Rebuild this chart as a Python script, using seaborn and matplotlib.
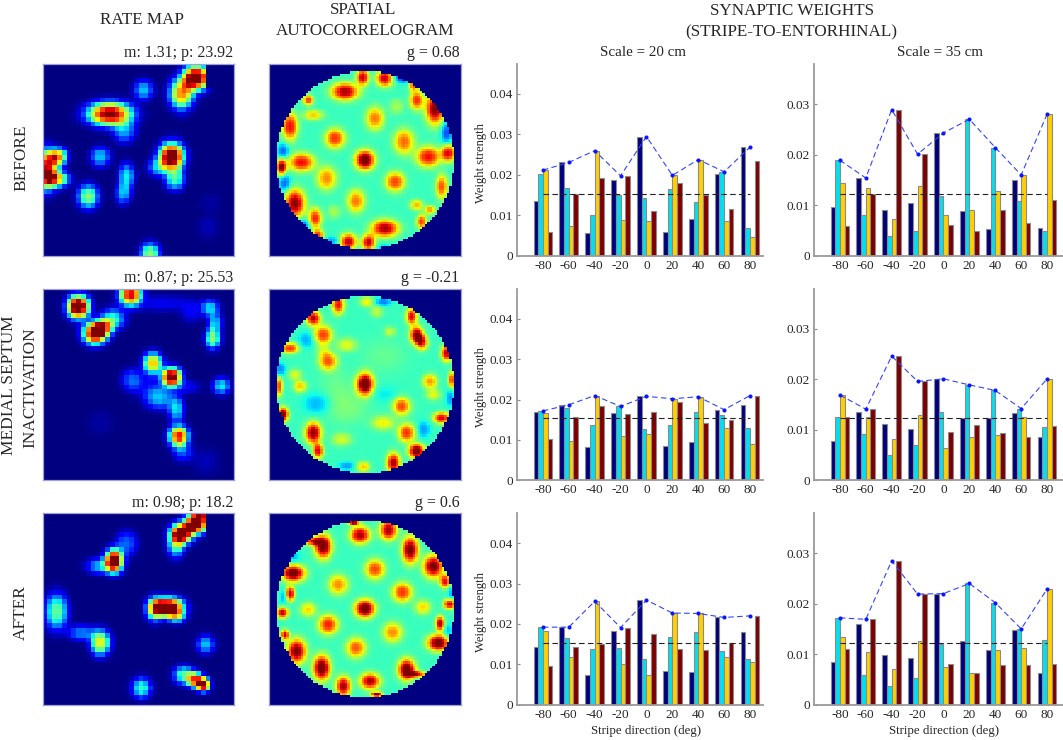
import numpy as np
import pandas as pd
import matplotlib
matplotlib.use("Agg")
import matplotlib.pyplot as plt
import seaborn as sns

sns.set_theme(style="white")
plt.rcParams['font.family'] = ['Liberation Serif', 'DejaVu Serif']

W, H = 1063, 740
TXT = '#262626'
directions = [-80, -60, -40, -20, 0, 20, 40, 60, 80]
stages = ['a', 'b', 'c', 'd']
bar_colors = ['#00007f', '#00e0f0', '#ffd000', '#7f0000']

# weights per direction group (four bars each)
w_before_20 = [[.0136,.0203,.0212,.0059],[.0231,.0167,.0073,.0152],[.0057,.0101,.0260,.0192],
               [.0188,.0151,.0090,.0198],[.0295,.0142,.0087,.0110],[.0060,.0166,.0199,.0181],
               [.0092,.0134,.0238,.0150],[.0203,.0208,.0087,.0115],[.0269,.0070,.0048,.0235]]
w_before_35 = [[.0097,.0189,.0145,.0060],[.0154,.0080,.0135,.0122],[.0090,.0039,.0073,.0289],
               [.0104,.0050,.0139,.0201],[.0243,.0118,.0081,.0061],[.0089,.0270,.0091,.0050],
               [.0053,.0214,.0128,.0091],[.0151,.0108,.0160,.0066],[.0056,.0050,.0280,.0110]]
w_ms_20 = [[.0168,.0172,.0166,.0103],[.0187,.0179,.0097,.0156],[.0082,.0137,.0210,.0183],
           [.0166,.0183,.0111,.0165],[.0208,.0127,.0115,.0169],[.0085,.0137,.0202,.0193],
           [.0094,.0168,.0207,.0143],[.0175,.0161,.0130,.0150],[.0186,.0130,.0091,.0210]]
w_ms_35 = [[.0078,.0125,.0169,.0125],[.0135,.0091,.0126,.0141],[.0112,.0051,.0082,.0246],
           [.0101,.0069,.0129,.0196],[.0201,.0135,.0064,.0096],[.0123,.0189,.0085,.0109],
           [.0123,.0178,.0090,.0094],[.0134,.0142,.0126,.0086],[.0086,.0105,.0201,.0108]]
w_after_20 = [[.0143,.0192,.0182,.0096],[.0192,.0166,.0118,.0142],[.0073,.0138,.0256,.0151],
              [.0182,.0140,.0102,.0191],[.0259,.0112,.0074,.0176],[.0084,.0167,.0227,.0137],
              [.0082,.0179,.0226,.0135],[.0216,.0134,.0117,.0153],[.0181,.0114,.0105,.0220]]
w_after_35 = [[.0085,.0172,.0135,.0111],[.0160,.0058,.0104,.0169],[.0098,.0037,.0070,.0285],
              [.0092,.0052,.0126,.0219],[.0220,.0120,.0074,.0081],[.0127,.0240,.0062,.0063],
              [.0109,.0202,.0108,.0078],[.0148,.0150,.0112,.0079],[.0062,.0129,.0229,.0080]]
mean_20 = 0.0154
mean_35 = 0.0123

# rate-map firing fields: (col, row, level, sx, sy) on a 40x40 grid
rate_before = [(32,2.8,1.1,1.9,1.8),(29,6.2,.75,1.7,2.2),(14,10.4,1.0,3.2,1.7),(17,14,.28,1.6,1.6),
               (26.9,19.3,1.1,1.8,2.0),(27.6,24,.42,1.4,1.5),(24,21.5,.3,1.4,1.3),
               (.6,22,.95,1.8,2.8),(3.2,19.3,.65,1.3,1.2),(3,24,.55,1.8,1.1),
               (12,19.3,.32,1.4,1.4),(9.5,27.6,.52,1.5,1.7),(17.5,23.3,.36,1.1,1.8),(16.8,27,.3,1.1,1.5),
               (21,5.4,.32,1.4,1.4),(22.4,39.6,.52,1.4,1.6),(34.5,34,.05,1.6,1.6),(35,29,.03,1.6,1.6)]
rate_ms = [(7.4,3.7,1.15,1.6,1.7),(10.9,9.2,1.08,1.7,1.6),(14.7,6.3,.4,1.7,1.5),(12.8,8,.5,1.3,1.3),
           (18.3,1,.92,1.6,1.7),(35.5,10.3,.52,1.1,1.5),(34.9,4,.34,1.3,1.2),(36,7,.3,1.0,1.3),
           (23,15.5,.7,1.4,1.5),(26.9,18.4,1.08,1.4,1.4),(37.3,20.3,.36,1.2,1.2),(18.5,19,.2,1.4,1.6),
           (24.4,22.8,.3,2.1,1.6),(27.9,25.2,.34,1.1,1.8),(28.4,30.8,.9,1.4,1.5),(29.3,34.2,.2,1.4,1.3),
           (25,3,.1,5,1.2),(31,5,.1,1.5,1.5),(22,20,.1,2.5,2),(30,20.5,.12,2,1),
           (12,28,.03,2,2),(34,36,.05,2,2)]
rate_after = [(32,2.1,1.08,1.6,1.5),(29,4.2,1.08,1.6,1.5),(33,.2,.6,1.1,.9),(27.8,6.6,.42,1.2,1.8),
              (14.9,9.9,1.12,1.3,1.7),(12,11,.3,2.0,1.1),(17.5,6.3,.22,1.5,1.8),
              (26.2,19.6,1.1,2.2,1.4),(23.4,20,.55,1.2,1.7),(28,21.5,.4,1.3,1.0),
              (2.9,20.5,.47,1.6,2.6),(12,27,.64,1.4,1.8),(8.1,25,.25,1.9,1.1),
              (34,27.4,.32,1.3,1.3),(20.6,36.5,.42,1.4,1.5),(33.5,35.8,1.02,1.0,1.0),(31.8,34.8,.72,1.1,1.1),(29.5,33.8,.45,1.5,1.3)]
rate_cleared = {'before': (34, 40, 0, 5), 'ms': None, 'after': (34, 40, 0, 4.5)}

# autocorrelogram peaks and dips: (x%, y%, level, sx, sy)
ac_before = [(49.8,50,1.05,3.6,3.6),(34.2,38.7,.86,3.6,3.6),(55,28.3,.78,3.3,4.2),(70.1,40.5,.8,3.7,4.6),(82.8,48.3,.9,4.5,3.7),
             (93.2,46.5,.92,2.5,3.1),(16.8,51.2,.9,4.7,3.3),(29.9,59.5,.76,3.7,4.3),(65.5,61.3,.84,3.6,3.6),(45.1,71.4,.78,3.3,4.2),
             (33.7,76.9,.55,2.5,2.5),(66.3,22.2,.55,2.7,2.7),(39.4,14.4,.97,5,3.2),(60.2,85.6,.97,5,3.2),
             (13.4,72.6,1.0,3.7,5.2),(86.3,23.4,1.0,3.5,5.7),(10.8,32.6,.9,2.9,5),(6.4,53.5,1,1.9,3),
             (48.6,6.9,.95,2.2,3),(60.2,7.5,.95,3.2,3),(76.7,18.8,.86,2.5,3.5),(75,11,.8,1.7,2),
             (20.3,18.8,.85,1.9,1.9),(22.9,26.6,.7,3.7,1.9),(23.8,80.4,.88,2.5,3.7),(41.1,92.5,.95,3.1,3),
             (51.6,92.9,.95,2.5,3),(25.5,89,.85,2,2),(89.8,63.9,.82,2.2,4.4),(76.7,73.4,.72,2.5,1.9),
             (83.7,76,.75,2,1.6),(79.3,82.1,.85,1.9,2.7),
             (92.4,35.7,.2,2,4),(7.3,45.6,.22,2,3),(8.2,62,.22,2,3),(17.7,84,.22,3,2.4),(69.8,7,.15,4,2),
             (33,92,.28,3,1.5),(60,96,.3,3,1.5)]
ac_ms = [(49.8,49.7,1.08,3.2,4.2),(30.7,37.8,.82,3.4,3.4),(28.1,24,.85,3.4,3.4),(22.9,15.3,.97,2.7,2.7),(35.9,8.3,.9,2.2,3.4),
         (50.7,6.6,.65,2.5,2),(74.1,14.4,.92,2,3),(76.7,24,1,2.5,3.2),(79.5,28,.85,2.2,2.7),(92.4,33.5,.95,2,3),
         (83.7,48.3,.75,2.7,2.7),(95,47.4,.85,1.3,3),(85.4,55.2,.62,2.7,2.2),(68.9,61.3,.84,3.2,3.4),
         (59.4,70,.65,4.3,2.7),(71.5,75.2,.86,3.2,3.4),(89.8,67.4,.92,3.1,2),(76.7,84.7,1.05,3,2.7),
         (64.6,90.8,.97,2.5,3.7),(49,92.9,.7,2.5,1.9),(37.7,78.6,.6,3.7,2.5),(22.9,75.2,1,3,4),(25.5,84.7,.92,1.9,2.7),
         (7.3,65.6,1.02,1.9,2.7),(5.2,50.9,.85,1.3,3.7),(16,50.9,.7,2.5,2.2),(13.4,44.8,.62,2.5,2),(10.8,30.9,.85,3.2,2),
         (40.3,29.2,.62,3.7,2.5),(55.9,11.8,.58,2.2,2.2),(62.8,22.2,.58,2.2,1.9),(28,32,.55,2.5,2.5),
         (40,62,.5,8,6),(60,35,.47,8,6),(35,50,.47,6,6),
         (19.4,26.6,.3,3,3),(5.6,42.2,.25,2,2.5),(59.4,6.6,.25,3,1.5),(40.3,92.5,.28,3,1.5),
         (80.2,73.4,.28,2.5,3),(94,57,.28,1.5,3),(25,60,.3,5,4),(60,55,.36,5,3)]
ac_after = [(49.8,49.8,1.05,3.7,3.4),(55,29.2,.84,3.6,3.6),(35.9,37.3,.76,3.6,3.6),(69.3,41.2,.86,3.6,3.6),(79.9,49,.68,3,2.7),
            (20.3,50.3,.68,3,2.7),(30.7,58.2,.88,3.6,3.6),(64.2,62.2,.76,3.6,3.6),(45.1,70.3,.82,3.6,3.6),
            (47.2,11.3,.97,3.7,3.2),(62,8.7,.97,3.2,3.7),(28.1,17.4,1.02,3.2,4.5),(22,14.5,.85,3.7,1.6),
            (73.3,19.1,1.02,3,5),(85.4,27.8,1.02,3.7,4.2),(12.5,31.3,1.05,4.3,3.1),(10.8,42,.97,1.7,2.7),
            (6.9,52,.95,2.2,2),(93.8,47.4,.95,2.2,1.9),(88.9,57.6,.97,1.7,2.7),(88,67.7,1.05,4,3),
            (14.2,72,1.02,3.5,4.5),(8.2,63.4,.92,1.5,2),(27.3,80.7,1.05,3.2,4.7),(38.5,90.3,.97,2.7,3.7),
            (52.4,87.7,.97,3.7,3),(71.5,81.6,1.05,3.2,4),(77,84,.85,3.7,1.2),(55.9,94.6,1.05,2,1),(43.8,4.9,1.05,2,1),
            (91.5,35.6,.9,1.9,2.5),(95,42,.3,1.5,3),(93,62,.3,1.5,3),(8,43.5,.28,1.5,2.5),(12,23,.3,3,2),
            (80,94,.25,3,2)]

MAP_X = {'rate': (42.7, 234.3), 'ac': (269.3, 461.3)}
ROW_Y = [(64, 256), (289, 480.3), (513.3, 704.7)]
BAR_X = [(517, 763), (814, 1063)]
BAR_YMAX = [0.0474, 0.0379]
XLIM = [(-100, 90), (-100, 92.3)]


def make_axes(x0, x1, y0, y1):
    return fig.add_axes([x0 / W, 1 - y1 / H, (x1 - x0) / W, (y1 - y0) / H])


def px_text(x, y, s, size, ha='center', rotation=0):
    fig.text(x / W, 1 - y / H, s, fontsize=size, ha=ha, va='center', rotation=rotation, color=TXT)


def render(peaks, n, extent, base, power):
    c = (np.arange(n) + 0.5) * extent / n
    X, Y = np.meshgrid(c, c)
    Z = np.full((n, n), float(base))
    for x, y, level, sx, sy in peaks:
        d = ((X - x) / sx) ** 2 / 2 + ((Y - y) / sy) ** 2 / 2
        Z += (level - base) * np.exp(-d ** power)
    return np.clip(Z, 0, 1), X, Y


def draw_map(ax, Z):
    sns.heatmap(Z, ax=ax, cmap='jet', vmin=0, vmax=1, cbar=False, square=False,
                xticklabels=False, yticklabels=False, rasterized=True)
    for s in ax.spines.values():
        s.set_visible(True)
        s.set_color('#a0a0d8')
        s.set_linewidth(0.9)


def draw_bars(ax, weights, mean, ymax, xlim, ticks):
    arr = np.array(weights)
    df = pd.DataFrame({
        'dir': np.repeat(directions, 4),
        'stage': stages * len(directions),
        'w': arr.ravel(),
    })
    sns.barplot(data=df, x='dir', y='w', hue='stage', hue_order=stages, palette=bar_colors,
                native_scale=True, width=0.72, gap=0, errorbar=None, legend=False, ax=ax,
                saturation=1, edgecolor='#8a8a8a', linewidth=0.8)
    ax.plot([directions[0], directions[-1]], [mean, mean], color='#222222', lw=0.8,
            dashes=(5, 3), zorder=5)
    peak = pd.DataFrame({'dir': directions, 'w': arr.max(axis=1)})
    sns.lineplot(data=peak, x='dir', y='w', ax=ax, color='#3344ff', lw=0.8, marker='o', ms=2.2,
                 mec='#0a14ff', mfc='#0a14ff', linestyle=(0, (5, 3)), errorbar=None, zorder=6)
    ax.set_xlim(*xlim)
    ax.set_ylim(0, ymax)
    ax.set_xticks(directions)
    ax.set_xticklabels([str(d) for d in directions])
    ax.set_yticks(ticks)
    ax.set_yticklabels(['0' if t == 0 else f'{t:.2f}' for t in ticks])
    ax.tick_params(axis='y', direction='in', length=2.5, width=0.8, color='#8a8a8a', labelsize=9.5,
                   labelcolor=TXT, pad=3, left=True)
    ax.tick_params(axis='x', length=0, labelsize=9.5, labelcolor=TXT, pad=3)
    for s in ('top', 'right'):
        ax.spines[s].set_visible(False)
    for s in ('left', 'bottom'):
        ax.spines[s].set_color('#9a9a9a')
        ax.spines[s].set_linewidth(1.3)
    ax.set_xlabel('')
    ax.set_ylabel('')
    ax.patch.set_alpha(0)


fig = plt.figure(figsize=(W / 100, H / 100), dpi=100, facecolor='white')

rates = [('before', rate_before), ('ms', rate_ms), ('after', rate_after)]
acs = [ac_before, ac_ms, ac_after]
weights = [(w_before_20, w_before_35), (w_ms_20, w_ms_35), (w_after_20, w_after_35)]
rate_titles = ['m: 1.31; p: 23.92', 'm: 0.87; p: 25.53', 'm: 0.98; p: 18.2']
ac_titles = ['g = 0.68', 'g = -0.21', 'g = 0.6']
title_y = [53, 278, 503]
wl_y = [163, 387, 612]
ticks_20 = [0, .01, .02, .03, .04]
ticks_35 = [0, .01, .02, .03]

for r, (y0, y1) in enumerate(ROW_Y):
    name, peaks = rates[r]
    Z, X, Y = render(peaks, 40, 40, 0.0, 1.25)
    if rate_cleared[name]:
        a, b, c, d = rate_cleared[name]
        Z[(X >= a) & (X <= b) & (Y >= c) & (Y <= d)] = 0
    ax = make_axes(*MAP_X['rate'], y0, y1)
    draw_map(ax, Z)
    px_text(233, title_y[r], rate_titles[r], 11.5, ha='right')

    Z, X, Y = render(acs[r], 79, 100, 0.42, 1.2)
    Z[np.hypot(X - 49.8, Y - 50) > 46.3] = 0
    ax = make_axes(*MAP_X['ac'], y0, y1)
    draw_map(ax, Z)
    px_text(459.5, title_y[r], ac_titles[r], 11.5, ha='right')

    for c in range(2):
        ax = make_axes(*BAR_X[c], y0, y1)
        draw_bars(ax, weights[r][c], (mean_20, mean_35)[c], BAR_YMAX[c], XLIM[c],
                  (ticks_20, ticks_35)[c])
    px_text(481, wl_y[r], 'Weight strength', 9.1, rotation=90)

px_text(142, 20, 'RATE MAP', 12.3)
px_text(363, 10, 'SPATIAL', 12.3)
px_text(365, 31, 'AUTOCORRELOGRAM', 12.3)
px_text(792, 11, 'SYNAPTIC WEIGHTS', 12.3)
px_text(791, 32, '(STRIPE-TO-ENTORHINAL)', 12.3)
px_text(643, 53, 'Scale = 20 cm', 10.8)
px_text(940, 53, 'Scale = 35 cm', 10.8)
px_text(646, 731, 'Stripe direction (deg)', 9.3)
px_text(944, 731, 'Stripe direction (deg)', 9.3)
px_text(21, 158, 'BEFORE', 12.4, rotation=90)
px_text(9.5, 385, 'MEDIAL SEPTUM', 12.4, rotation=90)
px_text(30, 388, 'INACTIVATION', 12.4, rotation=90)
px_text(21, 613, 'AFTER', 12.4, rotation=90)

fig.savefig('out.png', dpi=100)
